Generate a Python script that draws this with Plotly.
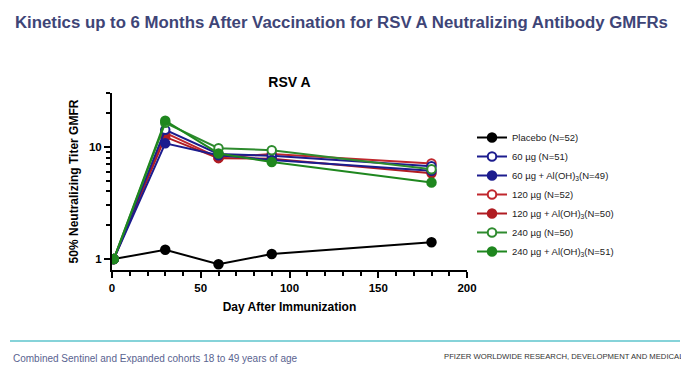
import math
import plotly.graph_objects as go

days = [1, 30, 60, 90, 180]
placebo = [1.0, 1.21, 0.90, 1.11, 1.41]
g60 = [1.0, 14.1, 8.6, 8.3, 6.7]
g60_al = [1.0, 10.7, 8.4, 7.6, 6.1]
g120 = [1.0, 13.3, 8.0, 8.6, 7.1]
g120_al = [1.0, 12.2, 7.9, 7.8, 5.8]
g240 = [1.0, 16.3, 9.7, 9.3, 6.3]
g240_al = [1.0, 17.0, 8.7, 7.3, 4.8]

names = ["Placebo (N=52)", "60 µg (N=51)", "60 µg + Al(OH)<sub>3</sub>(N=49)",
         "120 µg (N=52)", "120 µg + Al(OH)<sub>3</sub>(N=50)",
         "240 µg (N=50)", "240 µg + Al(OH)<sub>3</sub>(N=51)"]
series = [placebo, g60, g60_al, g120, g120_al, g240, g240_al]
colors = ["#000000", "#1c1c8e", "#1c1c8e", "#c0272d", "#b01c22", "#2e8b2e", "#1f871f"]
filled = [True, False, True, False, True, False, True]

# page body margin offsets the figure by 8px; positions below are window pixels
OFF = 8
FW, FH = 681, 367
L, R, T, B = 112 - OFF, 467 - OFF, 93 - OFF, 270 - OFF
W, H = R - L, B - T


def px(xw):
    return (xw - OFF - L) / W


def py(yw):
    return (B - (yw - OFF)) / H


fig = go.Figure()
order = [0, 3, 4, 1, 2, 5, 6]
for i in order:
    fig.add_trace(go.Scatter(
        x=days, y=series[i], name=names[i], mode="lines+markers",
        line=dict(color=colors[i], width=2),
        marker=dict(size=8.5, color=colors[i] if filled[i] else "white",
                    line=dict(color=colors[i], width=2)),
        legendrank=i + 1,
    ))

fig.update_layout(
    width=FW, height=FH,
    margin=dict(l=L, r=FW - R, t=T, b=FH - B, autoexpand=False),
    paper_bgcolor="white", plot_bgcolor="white",
    font=dict(family="Liberation Sans, Arial, sans-serif", color="#000000"),
    title=dict(text="<b>RSV A</b>", x=((L + R) / 2) / FW, xanchor="center",
               y=1 - (82 - OFF) / FH, yanchor="middle", font=dict(size=14, color="#000")),
    showlegend=True,
    legend=dict(x=px(472), y=py(123), xanchor="left", yanchor="top",
                font=dict(size=9.5, color="#222"), bgcolor="rgba(0,0,0,0)",
                tracegroupgap=0, itemwidth=30),
)
fig.update_xaxes(
    range=[0, 200], tickvals=[0, 50, 100, 150, 200],
    ticktext=["<b>0</b>", "<b>50</b>", "<b>100</b>", "<b>150</b>", "<b>200</b>"],
    ticks="outside", ticklen=6, tickwidth=2, tickcolor="black", automargin=False,
    showline=True, linecolor="black", linewidth=2, showgrid=False, zeroline=False,
    tickfont=dict(size=11.5, color="black"),
    minor=dict(tickvals=list(range(10, 200, 10)), ticks="outside", ticklen=4,
               tickwidth=1.5, tickcolor="black"),
    title=dict(text="<b>Day After Immunization</b>", font=dict(size=12), standoff=10),
)
fig.update_yaxes(
    type="log", range=[math.log10(0.8), math.log10(30)], tickvals=[1, 10],
    ticktext=["<b>1</b>", "<b>10</b>"], automargin=False,
    ticks="outside", ticklen=6, tickwidth=2, tickcolor="black",
    showline=True, linecolor="black", linewidth=2, showgrid=False, zeroline=False,
    tickfont=dict(size=11.5, color="black"),
    minor=dict(tickvals=[2, 3, 4, 5, 6, 7, 8, 9, 20, 30], ticks="outside", ticklen=4,
               tickwidth=1.5, tickcolor="black", showgrid=False),
    title=dict(text="<b>50% Neutralizing Titer GMFR</b>", font=dict(size=12), standoff=8),
)

fig.add_annotation(
    text="<b>Kinetics up to 6 Months After Vaccination for RSV A Neutralizing Antibody GMFRs</b>",
    xref="paper", yref="paper", x=px(13), y=py(22),
    xanchor="left", yanchor="middle", showarrow=False,
    font=dict(size=16.8, color="#3e4577"),
)
fig.add_shape(type="line", xref="paper", yref="paper",
              x0=px(10), x1=px(680), y0=py(341), y1=py(341),
              line=dict(color="#5ec4cc", width=1.5))
fig.add_annotation(
    text="Combined Sentinel and Expanded cohorts 18 to 49 years of age",
    xref="paper", yref="paper", x=px(11), y=py(358),
    xanchor="left", yanchor="middle", showarrow=False,
    font=dict(size=10, color="#5a6390"),
)
fig.add_annotation(
    text="PFIZER WORLDWIDE RESEARCH, DEVELOPMENT AND MEDICAL",
    xref="paper", yref="paper", x=px(686), y=py(356),
    xanchor="right", yanchor="middle", showarrow=False,
    font=dict(size=7.7, color="#333"),
)

fig.write_html("out.html")
